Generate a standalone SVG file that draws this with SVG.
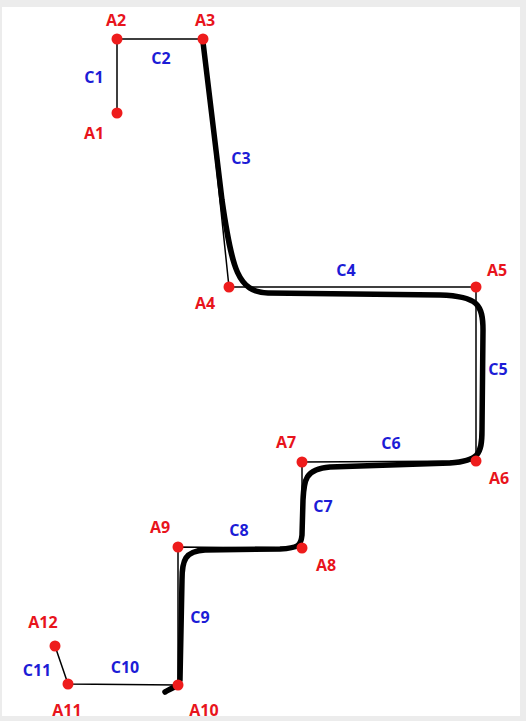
<svg xmlns="http://www.w3.org/2000/svg" width="526" height="721" viewBox="0 0 526 721">
<style>
.thin{stroke:#000;stroke-width:1.5;fill:none}
.thick{stroke:#000;stroke-width:5.5;fill:none;stroke-linecap:round;stroke-linejoin:round}
.pt{fill:#ee1c1c}
.a{fill:#e8141c;font-family:"Open Sans",sans-serif;font-weight:bold;font-size:16px;text-anchor:middle}
.c{fill:#1c1cd6;font-family:"Open Sans",sans-serif;font-weight:bold;font-size:16px;text-anchor:middle}
</style>
<rect x="0" y="0" width="526" height="721" fill="#ececec"/>
<rect x="2" y="7" width="518" height="709" fill="#fff"/>
<g id="connectors">
<path class="thin" d="M117,113 L117,39 L203,39 L229,287 L476,287 L476,461 L302,462 L302,548 L178,547 L178,685 L68,684 L55,646"/>
<path class="thick" d="M203,42 L222,200 C232,270 238,292 268,293 L440,295 C478,296 483,305 483,330 L482,430 C482,455 478,461 450,463 L330,467 C305,469 304,480 303,500 L302,535 C301,546 298,548 280,549 L205,550 C185,551 182,560 182,580 L180,680 C179,686 172,688 165,692"/>
</g>
<g id="A1"><circle class="pt" cx="117" cy="113" r="5.5"/><text class="a" x="94" y="139">A1</text></g>
<g id="A2"><circle class="pt" cx="117" cy="39" r="5.5"/><text class="a" x="116" y="26">A2</text></g>
<g id="A3"><circle class="pt" cx="203" cy="39" r="5.5"/><text class="a" x="205" y="26">A3</text></g>
<g id="A4"><circle class="pt" cx="229" cy="287" r="5.5"/><text class="a" x="205" y="309">A4</text></g>
<g id="A5"><circle class="pt" cx="476" cy="287" r="5.5"/><text class="a" x="497" y="276">A5</text></g>
<g id="A6"><circle class="pt" cx="476" cy="461" r="5.5"/><text class="a" x="499" y="484">A6</text></g>
<g id="A7"><circle class="pt" cx="302" cy="462" r="5.5"/><text class="a" x="286" y="448">A7</text></g>
<g id="A8"><circle class="pt" cx="302" cy="548" r="5.5"/><text class="a" x="326" y="571">A8</text></g>
<g id="A9"><circle class="pt" cx="178" cy="547" r="5.5"/><text class="a" x="160" y="533">A9</text></g>
<g id="A10"><circle class="pt" cx="178" cy="685" r="5.5"/><text class="a" x="204" y="716">A10</text></g>
<g id="A11"><circle class="pt" cx="68" cy="684" r="5.5"/><text class="a" x="67" y="716">A11</text></g>
<g id="A12"><circle class="pt" cx="55" cy="646" r="5.5"/><text class="a" x="43" y="628">A12</text></g>
<g id="labels">
<text class="c" x="94" y="83">C1</text>
<text class="c" x="161" y="64">C2</text>
<text class="c" x="241" y="164">C3</text>
<text class="c" x="346" y="276">C4</text>
<text class="c" x="498" y="375">C5</text>
<text class="c" x="391" y="449">C6</text>
<text class="c" x="323" y="512">C7</text>
<text class="c" x="239" y="536">C8</text>
<text class="c" x="200" y="623">C9</text>
<text class="c" x="125" y="673">C10</text>
<text class="c" x="37" y="676">C11</text>
</g>
</svg>
